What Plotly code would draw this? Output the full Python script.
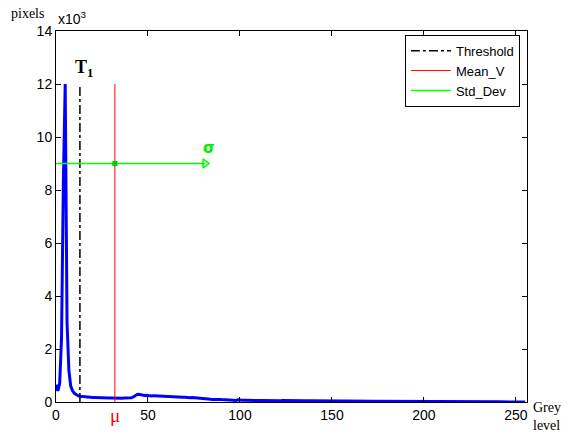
import plotly.graph_objects as go

grey_levels = list(range(256))
pixel_counts = [
    650, 420, 700, 2400, 8300, 12000, 3000, 1200, 600, 420, 330, 280, 240, 220, 210, 200,
    190, 185, 180, 175, 170, 170, 165, 160, 165, 160, 155, 160, 155, 150, 155, 150,
    150, 155, 150, 150, 145, 150, 150, 145, 150, 160, 190, 240, 280, 290, 270, 260,
    250, 255, 240, 245, 230, 240, 235, 225, 230, 220, 225, 215, 220, 210, 215, 205,
    200, 195, 190, 185, 180, 175, 180, 170, 175, 165, 170, 160, 165, 155, 150, 140,
    120, 110, 105, 100, 100, 95, 100, 95, 90, 95, 90, 85, 90, 85, 80, 80,
    75, 80, 60, 85, 70, 65, 70, 65, 60, 65, 60, 62, 58, 60, 57, 58,
    55, 57, 54, 56, 53, 55, 52, 54, 51, 53, 50, 52, 49, 51, 50, 48,
    49, 47, 48, 46, 47, 45, 46, 44, 45, 43, 44, 42, 43, 41, 42, 40,
    41, 40, 39, 40, 38, 39, 37, 38, 36, 37, 35, 36, 34, 35, 33, 34,
    33, 32, 33, 31, 32, 30, 31, 30, 29, 30, 28, 29, 27, 28, 27, 26,
    27, 26, 25, 26, 24, 25, 23, 24, 23, 22, 23, 21, 22, 21, 20, 21,
    20, 19, 20, 18, 19, 18, 17, 18, 17, 16, 17, 16, 15, 16, 15, 14,
    15, 14, 13, 14, 13, 12, 13, 12, 11, 12, 11, 10, 11, 10, 9, 10,
    9, 10, 9, 8, 9, 8, 7, 8, 7, 8, 7, 6, 7, 6, 5, 6,
    5, 6, 5, 4, 5, 4, 3, 4, 3, 4, 3, 2, 3, 2, 2, 1,
]

threshold = 13
mean_v = 32
std_end = 81
std_level = 9000
line_top = 12000

x_ticks = [0, 50, 100, 150, 200, 250]
y_ticks = [0, 2000, 4000, 6000, 8000, 10000, 12000, 14000]
y_tick_labels = ["0", "2", "4", "6", "8", "10", "12", "14"]

fig = go.Figure()

fig.add_trace(go.Scatter(
    x=grey_levels, y=pixel_counts, mode="lines",
    line=dict(color="#0000ff", width=3), showlegend=False, hoverinfo="skip"))

fig.add_trace(go.Scatter(
    x=[threshold, threshold], y=[0, line_top], mode="lines",
    line=dict(color="black", width=1.5, dash="dashdot"), name="Threshold"))

fig.add_trace(go.Scatter(
    x=[mean_v, mean_v], y=[0, line_top], mode="lines",
    line=dict(color="#ff0000", width=1), name="Mean_V"))

fig.add_trace(go.Scatter(
    x=[0, std_end], y=[std_level, std_level], mode="lines",
    line=dict(color="#00ff00", width=1.5), name="Std_Dev"))

fig.add_trace(go.Scatter(
    x=[std_end], y=[std_level], mode="markers",
    marker=dict(symbol="triangle-right-open", color="#00ff00", size=8,
                line=dict(width=1.5, color="#00ff00")),
    showlegend=False, hoverinfo="skip"))

fig.add_trace(go.Scatter(
    x=[mean_v], y=[std_level], mode="markers",
    marker=dict(symbol="square", color="#00cc00", size=5),
    showlegend=False, hoverinfo="skip"))

serif = "Liberation Serif"
sans = "Liberation Sans"

fig.add_annotation(x=threshold + 2, y=12600, text="<b>T<sub>1</sub></b>",
                   showarrow=False, font=dict(family=serif, size=18, color="black"),
                   xanchor="center", yanchor="middle")
fig.add_annotation(x=std_end - 2, y=std_level, yshift=5, text="<b>σ</b>",
                   showarrow=False, font=dict(family="DejaVu Sans", size=15, color="#00ee00"),
                   xanchor="left", yanchor="bottom")
fig.add_annotation(x=mean_v, y=0, yshift=-1, text="μ",
                   showarrow=False, font=dict(family=serif, size=19, color="#ff0000"),
                   xanchor="center", yanchor="top")
fig.add_annotation(xref="paper", yref="paper", x=-0.06, y=1.0, yshift=8,
                   text="pixels", showarrow=False,
                   font=dict(family=serif, size=14, color="black"),
                   xanchor="center", yanchor="bottom")
fig.add_annotation(xref="paper", yref="paper", x=0.0, y=1.0, yshift=2,
                   text="x10<sup>3</sup>", showarrow=False,
                   font=dict(family=sans, size=14, color="black"),
                   xanchor="left", yanchor="bottom")
fig.add_annotation(xref="paper", yref="paper", x=1.0, y=0.0, xshift=4, yshift=-33,
                   text="Grey<br>level", showarrow=False, align="left",
                   font=dict(family=serif, size=14, color="black"),
                   xanchor="left", yanchor="bottom")

axis_common = dict(
    showline=True, linecolor="black", linewidth=1, mirror="ticks",
    ticks="inside", ticklen=5, tickcolor="black", showgrid=False, zeroline=False,
    tickfont=dict(family=sans, size=14, color="black"),
)

fig.update_xaxes(range=[0, 256], tickvals=x_ticks, **axis_common)
fig.update_yaxes(range=[0, 14000], tickvals=y_ticks, ticktext=y_tick_labels, **axis_common)

fig.update_layout(
    width=583, height=434,
    margin=dict(l=56, r=56, t=31, b=32),
    paper_bgcolor="white", plot_bgcolor="white",
    legend=dict(x=0.985, y=0.99, xanchor="right", yanchor="top",
                bordercolor="black", borderwidth=1, bgcolor="white",
                font=dict(family=sans, size=13, color="black"),
                tracegroupgap=0, itemwidth=40),
)

fig.write_html("out.html")
